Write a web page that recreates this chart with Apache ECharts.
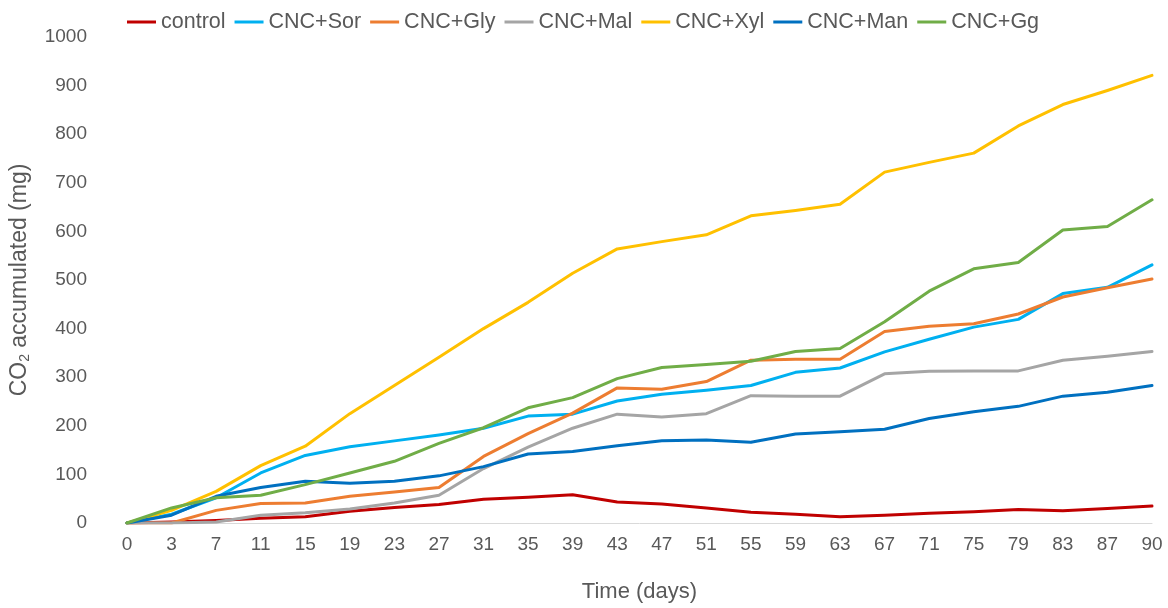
<!DOCTYPE html>
<html>
<head>
<meta charset="utf-8">
<script src="https://cdn.jsdelivr.net/npm/echarts@6/dist/echarts.min.js"></script>
<style>
  html, body { margin: 0; padding: 0; background: #fff; }
  #chart { width: 1168px; height: 608px; }
</style>
</head>
<body>
<div id="chart"></div>
<script>
// Sampling days (x-axis categories)
const days = ['0','3','7','11','15','19','23','27','31','35','39','43','47','51','55','59','63','67','71','75','79','83','87','90'];

// Accumulated CO2 (mg) per treatment
const control = [0,2,5,10,13,24,32,38,49,53,58,43,39,31,22,18,13,16,20,23,28,25,30,35];
const cncSor  = [0,18,52,103,139,157,169,181,195,220,224,251,265,273,283,310,319,352,378,403,419,472,485,531];
const cncGly  = [0,0,26,40,41,55,64,73,137,184,226,278,275,291,335,337,337,394,405,410,430,465,484,502];
const cncMal  = [0,0,2,16,21,29,41,57,112,156,195,224,218,225,262,261,261,307,312,313,313,335,343,353];
const cncXyl  = [0,26,65,118,158,225,283,341,400,454,514,564,579,593,632,643,656,722,742,761,817,861,890,921];
const cncMan  = [0,16,55,73,86,82,86,97,116,142,147,159,169,171,166,183,188,193,215,229,240,261,269,283];
const cncGg   = [0,31,52,57,79,103,127,164,196,237,258,297,320,326,333,353,359,414,477,523,536,603,610,665];

const seriesDefs = [
  { name: 'control', data: control, color: '#C00000' },
  { name: 'CNC+Sor', data: cncSor,  color: '#00B0F0' },
  { name: 'CNC+Gly', data: cncGly,  color: '#ED7D31' },
  { name: 'CNC+Mal', data: cncMal,  color: '#A5A5A5' },
  { name: 'CNC+Xyl', data: cncXyl,  color: '#FFC000' },
  { name: 'CNC+Man', data: cncMan,  color: '#0070C0' },
  { name: 'CNC+Gg',  data: cncGg,   color: '#70AD47' }
];

const FONT = '"Liberation Sans", Arial, sans-serif';
const TEXT = '#595959';

const chart = echarts.init(document.getElementById('chart'), null, { renderer: 'canvas' });

chart.setOption({
  animation: false,
  backgroundColor: '#ffffff',
  textStyle: { fontFamily: FONT },
  legend: {
    top: 6,
    left: 122,
    itemWidth: 29,
    itemHeight: 3,
    itemGap: 9,
    icon: 'rect',
    textStyle: { fontSize: 21.5, color: TEXT, fontFamily: FONT },
    data: seriesDefs.map(s => s.name)
  },
  grid: { left: 127, right: 16, top: 37, bottom: 81, containLabel: false },
  xAxis: {
    type: 'category',
    data: days,
    boundaryGap: false,
    name: 'Time (days)',
    nameLocation: 'middle',
    nameGap: 58,
    nameTextStyle: { fontSize: 22, color: TEXT, fontFamily: FONT },
    axisLine: { lineStyle: { color: '#D9D9D9', width: 1 } },
    axisTick: { show: false },
    axisLabel: { fontSize: 19, color: TEXT, margin: 12, fontFamily: FONT, interval: 0 },
    splitLine: { show: false }
  },
  yAxis: {
    type: 'value',
    min: 0,
    max: 1000,
    interval: 100,
    name: 'CO{sub|2} accumulated (mg)',
    nameLocation: 'middle',
    nameGap: 95,
    nameTextStyle: {
      fontSize: 23, color: TEXT, fontFamily: FONT,
      rich: {
        sub: { fontSize: 14, color: TEXT, fontFamily: FONT, verticalAlign: 'bottom', padding: [10, 0, 0, 0] }
      }
    },
    axisLine: { show: false },
    axisTick: { show: false },
    axisLabel: { fontSize: 19, color: TEXT, margin: 40, fontFamily: FONT, formatter: v => String(v) },
    splitLine: { show: false }
  },
  series: seriesDefs.map(s => ({
    name: s.name,
    type: 'line',
    data: s.data,
    symbol: 'none',
    smooth: false,
    color: s.color,
    lineStyle: { color: s.color, width: 3, cap: 'round', join: 'round' }
  }))
});
</script>
</body>
</html>
